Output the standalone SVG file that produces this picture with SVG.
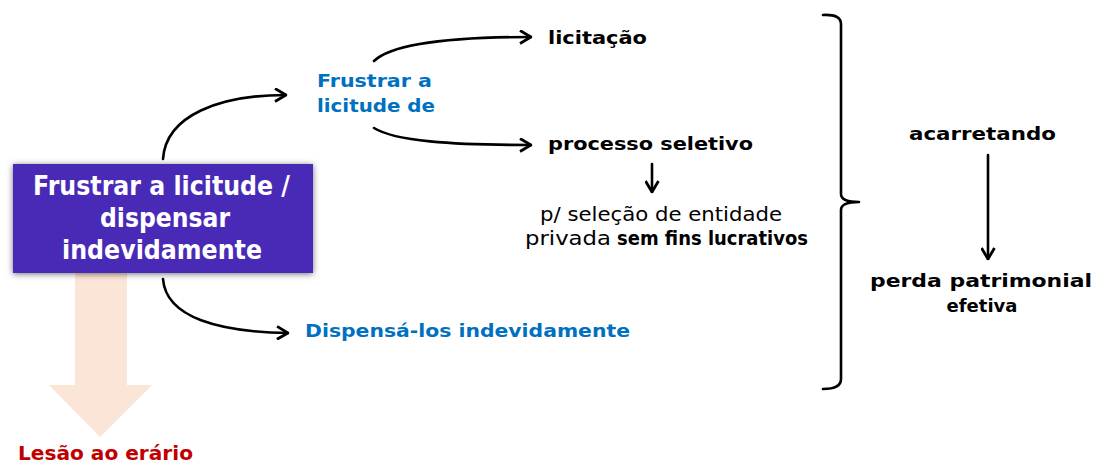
<svg xmlns="http://www.w3.org/2000/svg" width="1096" height="464" viewBox="0 0 1096 464">
  <defs>
    <marker id="arr" viewBox="0 0 13 15" refX="12" refY="7.5" markerWidth="13" markerHeight="15" markerUnits="userSpaceOnUse" orient="auto">
      <path d="M1,1 L12,7.5 L1,14" fill="none" stroke="#000" stroke-width="2.8" stroke-linejoin="miter"/>
    </marker>
    <filter id="shadow" x="-10%" y="-20%" width="120%" height="140%">
      <feGaussianBlur in="SourceAlpha" stdDeviation="3"/>
      <feOffset dx="0" dy="1" result="b"/>
      <feFlood flood-color="#000" flood-opacity="0.55"/>
      <feComposite in2="b" operator="in"/>
      <feMerge><feMergeNode/><feMergeNode in="SourceGraphic"/></feMerge>
    </filter>
    <style>
      text { font-family: "DejaVu Sans", "Liberation Sans", sans-serif; }
      .b { font-weight: bold; }
      .k { fill: #000; font-size: 18px; font-weight: bold; }
      .blue { fill: #0070c0; font-size: 18px; font-weight: bold; }
      .n { fill: #000; font-size: 19px; }
      .conn { fill: none; stroke: #000; stroke-width: 2.6; stroke-linecap: round; }
    </style>
  </defs>
  <rect width="1096" height="464" fill="#fff"/>

  <g id="lesao">
    <polygon points="75,273 127,273 127,385 152,385 100,437 49,385 75,385" fill="#fbe5d6"/>
    <text x="18" y="460" font-size="19" font-weight="bold" fill="#c00000" textLength="175" lengthAdjust="spacingAndGlyphs">Lesão ao erário</text>
  </g>

  <g id="main">
    <rect x="13" y="164" width="300" height="109" fill="#4a2cb7" filter="url(#shadow)"/>
    <text fill="#fff" font-size="26" font-weight="bold">
      <tspan x="33" y="195" textLength="257" lengthAdjust="spacingAndGlyphs">Frustrar a licitude /</tspan>
      <tspan x="100" y="227" textLength="130" lengthAdjust="spacingAndGlyphs">dispensar</tspan>
      <tspan x="62" y="259" textLength="200" lengthAdjust="spacingAndGlyphs">indevidamente</tspan>
    </text>
  </g>

  <g id="connectors">
    <path class="conn" d="M163,159 C166,115 220,95 286,95" marker-end="url(#arr)"/>
    <path class="conn" d="M163,279 C166,318 220,332 288,333" marker-end="url(#arr)"/>
    <path class="conn" d="M374,61 C392,44 450,37 531,37" marker-end="url(#arr)"/>
    <path class="conn" d="M374,128 C395,141 450,145 531,145" marker-end="url(#arr)"/>
    <path class="conn" d="M652,164 L652,192" marker-end="url(#arr)"/>
    <path class="conn" d="M988,155 L988,259" marker-end="url(#arr)"/>
    <path class="conn" d="M823,15 Q841,14 841,24 L841,194 Q841,202 859,202 Q841,202 841,210 L841,379 Q841,389 823,389" stroke-linejoin="round"/>
  </g>

  <g id="frustrar">
    <text class="blue">
      <tspan x="317" y="87" textLength="115" lengthAdjust="spacingAndGlyphs">Frustrar a</tspan>
      <tspan x="317" y="112" textLength="118" lengthAdjust="spacingAndGlyphs">licitude de</tspan>
    </text>
  </g>

  <g id="licitacao">
    <text class="k" x="548" y="44" textLength="99" lengthAdjust="spacingAndGlyphs">licitação</text>
  </g>

  <g id="processo">
    <text class="k" x="548" y="150" textLength="205" lengthAdjust="spacingAndGlyphs">processo seletivo</text>
  </g>

  <g id="selecao">
    <text class="n">
      <tspan x="540" y="221" textLength="242" lengthAdjust="spacingAndGlyphs">p/ seleção de entidade</tspan>
      <tspan x="525" y="245" textLength="86" lengthAdjust="spacingAndGlyphs">privada</tspan>
      <tspan class="b" x="617" y="245" textLength="191" lengthAdjust="spacingAndGlyphs">sem fins lucrativos</tspan>
    </text>
  </g>

  <g id="dispensa">
    <text class="blue" x="305" y="337" textLength="325" lengthAdjust="spacingAndGlyphs">Dispensá-los indevidamente</text>
  </g>

  <g id="acarretando">
    <text class="k" x="909" y="140" textLength="147" lengthAdjust="spacingAndGlyphs">acarretando</text>
  </g>

  <g id="perda">
    <text class="k" x="870" y="287" textLength="222" lengthAdjust="spacingAndGlyphs">perda patrimonial</text>
    <text class="k" x="982" y="312" text-anchor="middle">efetiva</text>
  </g>
</svg>
